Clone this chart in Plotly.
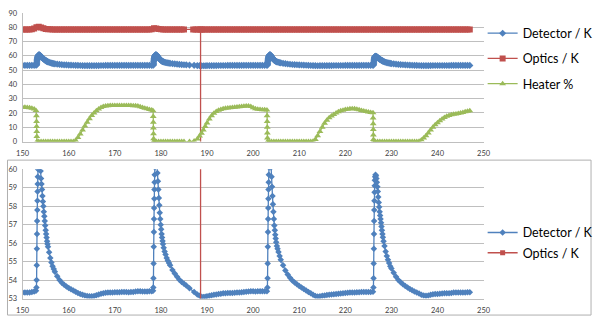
import plotly.graph_objects as go

# ---- logged data: (time, value) ----
DETECTOR = [
    (150.0, 53.32), (150.5, 53.32), (151.0, 53.33), (151.5, 53.33), (152.0, 53.35), (152.5, 53.38), (152.9, 53.42),
    (153.00, 53.6), (153.03, 54.0), (153.06, 54.8), (153.09, 55.7), (153.12, 56.5), (153.15, 57.2), (153.18, 57.8),
    (153.21, 58.3), (153.24, 58.8), (153.27, 59.2), (153.30, 59.6), (153.35, 60.0), (153.42, 60.4), (153.5, 60.7),
    (153.6, 60.8), (153.7, 60.6), (153.8, 60.3), (153.9, 59.9), (154.0, 59.5), (154.1, 59.2), (154.2, 58.9),
    (154.3, 58.55), (154.4, 58.25), (154.5, 58.0), (154.6, 57.7), (154.7, 57.45), (154.8, 57.2), (154.9, 56.95),
    (155.0, 56.7), (155.1, 56.5), (155.2, 56.3), (155.3, 56.1), (155.4, 55.95), (155.5, 55.8), (155.75, 55.5),
    (156.0, 55.2), (156.25, 54.95), (156.5, 54.75), (156.75, 54.6), (157.0, 54.45), (157.5, 54.2), (158.0, 54.0),
    (158.5, 53.85), (159.0, 53.75), (159.5, 53.65), (160.0, 53.57), (160.5, 53.5), (161.0, 53.43), (161.5, 53.37),
    (162.0, 53.3), (162.5, 53.25), (163.0, 53.2), (163.5, 53.16), (164.0, 53.14), (164.5, 53.12), (165.0, 53.12),
    (165.5, 53.14), (166.0, 53.18), (166.5, 53.22), (167.0, 53.26), (167.5, 53.29), (168.0, 53.31), (168.5, 53.32),
    (169.0, 53.33), (169.5, 53.33), (170.0, 53.34), (170.5, 53.34), (171.0, 53.34), (171.5, 53.35), (172.0, 53.35),
    (172.5, 53.35), (173.0, 53.34), (173.5, 53.35), (174.0, 53.36), (174.5, 53.38), (175.0, 53.4), (175.5, 53.39),
    (176.0, 53.38), (176.5, 53.38), (177.0, 53.38), (177.5, 53.39), (178.0, 53.4), (178.3, 53.42),
    (178.35, 53.6), (178.38, 54.1), (178.41, 54.9), (178.44, 55.8), (178.47, 56.6), (178.50, 57.3), (178.53, 57.9),
    (178.56, 58.4), (178.59, 58.9), (178.62, 59.3), (178.65, 59.7), (178.7, 60.1), (178.78, 60.5), (178.85, 60.75),
    (178.95, 60.8), (179.05, 60.55), (179.15, 60.2), (179.25, 59.8), (179.35, 59.35), (179.45, 58.9), (179.55, 58.45),
    (179.65, 58.05), (179.75, 57.65), (179.85, 57.3), (179.95, 57.0), (180.05, 56.75), (180.15, 56.5), (180.25, 56.3),
    (180.35, 56.12), (180.45, 55.95), (180.6, 55.75), (180.8, 55.55), (181.0, 55.38), (181.25, 55.2), (181.5, 55.05),
    (181.75, 54.92), (182.0, 54.8), (182.5, 54.55), (183.0, 54.35), (183.5, 54.18), (184.0, 54.02), (184.5, 53.9),
    (185.0, 53.8), (185.5, 53.7), (186.2, 53.55), (187.2, 53.35), (187.9, 53.22), (188.4, 53.15), (188.8, 53.1),
    (189.2, 53.08), (189.6, 53.09), (190.0, 53.12), (190.5, 53.15), (191.0, 53.18), (191.5, 53.2), (192.0, 53.22),
    (192.5, 53.24), (193.0, 53.26), (193.5, 53.28), (194.0, 53.29), (194.5, 53.3), (195.0, 53.3), (195.5, 53.3),
    (196.0, 53.31), (196.5, 53.32), (197.0, 53.33), (197.5, 53.34), (198.0, 53.36), (198.5, 53.37), (199.0, 53.38),
    (199.5, 53.39), (200.0, 53.39), (200.5, 53.38), (201.0, 53.39), (201.5, 53.4), (202.0, 53.4), (202.5, 53.39),
    (203.0, 53.4),
    (203.10, 53.6), (203.13, 54.1), (203.16, 54.9), (203.19, 55.8), (203.22, 56.6), (203.25, 57.3), (203.28, 57.9),
    (203.31, 58.4), (203.34, 58.9), (203.37, 59.3), (203.40, 59.7), (203.45, 60.1), (203.52, 60.5), (203.6, 60.75),
    (203.7, 60.8), (203.8, 60.5), (203.9, 60.1), (204.0, 59.6), (204.1, 59.05), (204.2, 58.55), (204.3, 58.1),
    (204.4, 57.7), (204.5, 57.3), (204.6, 56.95), (204.7, 56.7), (204.8, 56.45), (204.9, 56.25), (205.0, 56.05),
    (205.15, 55.85), (205.3, 55.7), (205.5, 55.52), (205.75, 55.3), (206.0, 55.1), (206.5, 54.8), (207.0, 54.52),
    (207.5, 54.3), (208.0, 54.12), (208.5, 53.98), (209.0, 53.87), (209.5, 53.77), (210.0, 53.68), (210.5, 53.6),
    (211.0, 53.52), (211.5, 53.44), (212.0, 53.36), (212.5, 53.28), (213.0, 53.2), (213.5, 53.14), (214.0, 53.11),
    (214.5, 53.12), (215.0, 53.15), (215.5, 53.17), (216.0, 53.19), (216.5, 53.2), (217.0, 53.22), (217.5, 53.23),
    (218.0, 53.25), (218.5, 53.26), (219.0, 53.27), (219.5, 53.28), (220.0, 53.3), (220.5, 53.31), (221.0, 53.32),
    (221.5, 53.32), (222.0, 53.33), (222.5, 53.34), (223.0, 53.34), (223.5, 53.35), (224.0, 53.35), (224.5, 53.36),
    (225.0, 53.36), (225.5, 53.35), (226.0, 53.37),
    (226.10, 53.6), (226.13, 54.1), (226.16, 54.9), (226.19, 55.7), (226.22, 56.5), (226.25, 57.2), (226.28, 57.8),
    (226.31, 58.3), (226.34, 58.75), (226.37, 59.1), (226.40, 59.4), (226.46, 59.6), (226.55, 59.7), (226.65, 59.65),
    (226.75, 59.5), (226.85, 59.3), (226.95, 59.05), (227.05, 58.8), (227.15, 58.5), (227.25, 58.2), (227.35, 57.95),
    (227.45, 57.7), (227.55, 57.5), (227.65, 57.3), (227.75, 57.1), (227.85, 56.9), (227.95, 56.7), (228.05, 56.5),
    (228.15, 56.32), (228.3, 56.1), (228.5, 55.85), (228.75, 55.55), (229.0, 55.3), (229.25, 55.1), (229.5, 54.92),
    (229.75, 54.75), (230.0, 54.62), (230.5, 54.4), (231.0, 54.18), (231.5, 54.0), (232.0, 53.88), (232.5, 53.78),
    (233.0, 53.68), (233.5, 53.6), (234.0, 53.52), (234.5, 53.45), (235.0, 53.38), (235.5, 53.33), (236.0, 53.27),
    (236.5, 53.21), (237.0, 53.17), (237.5, 53.15), (238.0, 53.17), (238.5, 53.2), (239.0, 53.23), (239.5, 53.24),
    (240.0, 53.25), (240.5, 53.26), (241.0, 53.27), (241.5, 53.28), (242.0, 53.28), (242.5, 53.29), (243.0, 53.3),
    (243.5, 53.32), (244.0, 53.33), (244.5, 53.33), (245.0, 53.32), (245.5, 53.32), (246.0, 53.33), (246.5, 53.34),
    (247.0, 53.34),
]

OPTICS = [
    (150.0, 78.5), (150.5, 78.5), (151.0, 78.5), (151.5, 78.5), (152.0, 78.6), (152.5, 79.2), (153.0, 80.0),
    (153.5, 80.4), (154.0, 79.9), (154.5, 79.3), (155.0, 78.9), (155.5, 78.7), (156.0, 78.6), (156.5, 78.5),
    (157.0, 78.5), (157.5, 78.5), (158.0, 78.5), (158.5, 78.5), (159.0, 78.5), (159.5, 78.5), (160.0, 78.5),
    (160.5, 78.5), (161.0, 78.5), (161.5, 78.5), (162.0, 78.5), (162.5, 78.5), (163.0, 78.5), (163.5, 78.5),
    (164.0, 78.5), (164.5, 78.5), (165.0, 78.5), (165.5, 78.5), (166.0, 78.5), (166.5, 78.5), (167.0, 78.5),
    (167.5, 78.5), (168.0, 78.5), (168.5, 78.5), (169.0, 78.5), (169.5, 78.5), (170.0, 78.5), (170.5, 78.5),
    (171.0, 78.5), (171.5, 78.5), (172.0, 78.5), (172.5, 78.5), (173.0, 78.5), (173.5, 78.5), (174.0, 78.5),
    (174.5, 78.5), (175.0, 78.5), (175.5, 78.5), (176.0, 78.5), (176.5, 78.5), (177.0, 78.5), (177.5, 78.5),
    (178.0, 78.7), (178.5, 79.4), (179.0, 79.2), (179.5, 78.8), (180.0, 78.6), (180.5, 78.5), (181.0, 78.5),
    (181.5, 78.5), (182.0, 78.5), (182.5, 78.5), (183.0, 78.5), (183.5, 78.5), (184.0, 78.5), (184.5, 78.5),
    (185.0, 78.5), (187.0, 78.5), (187.5, 78.5), (188.0, 78.5), (188.6, 78.5), (188.6, -10.0), (188.6, 78.5),
    (189.0, 78.5), (189.5, 78.5), (190.0, 78.5), (190.5, 78.5), (191.0, 78.5), (191.5, 78.5), (192.0, 78.5),
    (192.5, 78.5), (193.0, 78.5), (193.5, 78.5), (194.0, 78.5), (194.5, 78.5), (195.0, 78.5), (195.5, 78.5),
    (196.0, 78.5), (196.5, 78.5), (197.0, 78.5), (197.5, 78.5), (198.0, 78.5), (198.5, 78.5), (199.0, 78.5),
    (199.5, 78.5), (200.0, 78.5), (200.5, 78.5), (201.0, 78.5), (201.5, 78.5), (202.0, 78.5), (202.5, 78.5),
    (203.0, 78.5), (203.5, 78.5), (204.0, 78.5), (204.5, 78.5), (205.0, 78.5), (205.5, 78.5), (206.0, 78.5),
    (206.5, 78.5), (207.0, 78.5), (207.5, 78.5), (208.0, 78.5), (208.5, 78.5), (209.0, 78.5), (209.5, 78.5),
    (210.0, 78.5), (210.5, 78.5), (211.0, 78.5), (211.5, 78.5), (212.0, 78.5), (212.5, 78.5), (213.0, 78.5),
    (213.5, 78.5), (214.0, 78.5), (214.5, 78.5), (215.0, 78.5), (215.5, 78.5), (216.0, 78.5), (216.5, 78.5),
    (217.0, 78.5), (217.5, 78.5), (218.0, 78.5), (218.5, 78.5), (219.0, 78.5), (219.5, 78.5), (220.0, 78.5),
    (220.5, 78.5), (221.0, 78.5), (221.5, 78.5), (222.0, 78.5), (222.5, 78.5), (223.0, 78.5), (223.5, 78.5),
    (224.0, 78.5), (224.5, 78.5), (225.0, 78.5), (225.5, 78.5), (226.0, 78.5), (226.5, 78.5), (227.0, 78.5),
    (227.5, 78.5), (228.0, 78.5), (228.5, 78.5), (229.0, 78.5), (229.5, 78.5), (230.0, 78.5), (230.5, 78.5),
    (231.0, 78.5), (231.5, 78.5), (232.0, 78.5), (232.5, 78.5), (233.0, 78.5), (233.5, 78.5), (234.0, 78.5),
    (234.5, 78.5), (235.0, 78.5), (235.5, 78.5), (236.0, 78.5), (236.5, 78.5), (237.0, 78.5), (237.5, 78.5),
    (238.0, 78.5), (238.5, 78.5), (239.0, 78.5), (239.5, 78.5), (240.0, 78.5), (240.5, 78.5), (241.0, 78.5),
    (241.5, 78.5), (242.0, 78.5), (242.5, 78.5), (243.0, 78.5), (243.5, 78.5), (244.0, 78.5), (244.5, 78.5),
    (245.0, 78.5), (245.5, 78.5), (246.0, 78.5), (246.5, 78.5), (247.0, 78.5),
]

HEATER = [
    (150.0, 24.0), (150.5, 24.0), (151.0, 23.9), (151.5, 23.7), (152.0, 23.4), (152.5, 22.8), (152.9, 21.8),
    (153.00, 18.0), (153.02, 14.0), (153.04, 10.5), (153.06, 7.0), (153.08, 3.5), (153.10, 0.0),
    (153.5, 0.0), (154.0, 0.0), (154.5, 0.0), (155.0, 0.0), (155.5, 0.0), (156.0, 0.0), (156.5, 0.0), (157.0, 0.0),
    (157.5, 0.0), (158.0, 0.0), (158.5, 0.0), (159.0, 0.0), (159.5, 0.0), (160.0, 0.0), (160.5, 0.0), (161.0, 0.0),
    (161.5, 0.8), (162.0, 2.8), (162.5, 5.2), (163.0, 8.0), (163.5, 10.8), (164.0, 13.5), (164.5, 16.0),
    (165.0, 18.2), (165.5, 20.0), (166.0, 21.5), (166.5, 22.8), (167.0, 23.8), (167.5, 24.5), (168.0, 24.9),
    (168.5, 25.1), (169.0, 25.2), (169.5, 25.2), (170.0, 25.2), (170.5, 25.2), (171.0, 25.2), (171.5, 25.2),
    (172.0, 25.2), (172.5, 25.2), (173.0, 25.2), (173.5, 25.2), (174.0, 25.1), (174.5, 25.1), (175.0, 24.9),
    (175.5, 24.4), (176.0, 23.8), (176.5, 23.3), (177.0, 22.9), (177.5, 22.5), (178.0, 22.1), (178.3, 21.6),
    (178.33, 17.5), (178.35, 13.5), (178.37, 9.5), (178.39, 5.5), (178.41, 2.0), (178.43, 0.0),
    (178.5, 0.0), (179.0, 0.0), (179.5, 0.0), (180.0, 0.0), (180.5, 0.0), (181.0, 0.0), (181.5, 0.0), (182.0, 0.0),
    (182.5, 0.0), (183.0, 0.0), (183.5, 0.0), (184.0, 0.0), (184.5, 0.0), (185.0, 0.0), (186.2, 0.0), (187.2, 0.3),
    (187.9, 1.8), (188.4, 3.8), (188.8, 5.8), (189.2, 8.0), (189.6, 10.5), (190.0, 13.0), (190.5, 15.8),
    (191.0, 18.0), (191.5, 19.8), (192.0, 21.0), (192.5, 21.9), (193.0, 22.5), (193.5, 23.0), (194.0, 23.3),
    (194.5, 23.5), (195.0, 23.7), (195.5, 23.9), (196.0, 24.0), (196.5, 24.2), (197.0, 24.3), (197.5, 24.5),
    (198.0, 24.7), (198.5, 24.9), (199.0, 24.9), (199.5, 24.5), (200.0, 23.7), (200.5, 23.0), (201.0, 22.6),
    (201.5, 22.4), (202.0, 22.3), (202.5, 22.2), (203.0, 22.1),
    (203.03, 18.0), (203.05, 14.0), (203.07, 10.0), (203.09, 6.0), (203.11, 2.5), (203.13, 0.0),
    (203.5, 0.0), (204.0, 0.0), (204.5, 0.0), (205.0, 0.0), (205.5, 0.0), (206.0, 0.0), (206.5, 0.0), (207.0, 0.0),
    (207.5, 0.0), (208.0, 0.0), (208.5, 0.0), (209.0, 0.0), (209.5, 0.0), (210.0, 0.0), (210.5, 0.0), (211.0, 0.0),
    (211.5, 0.0), (212.0, 0.0), (212.5, 0.0), (213.0, 0.2), (213.5, 1.5), (214.0, 4.0), (214.5, 7.0),
    (215.0, 10.0), (215.5, 12.8), (216.0, 15.0), (216.5, 16.6), (217.0, 17.9), (217.5, 19.0), (218.0, 20.0),
    (218.5, 20.8), (219.0, 21.5), (219.5, 22.0), (220.0, 22.4), (220.5, 22.7), (221.0, 22.9), (221.5, 23.0),
    (222.0, 22.9), (222.5, 22.6), (223.0, 22.2), (223.5, 21.8), (224.0, 21.4), (224.5, 21.0), (225.0, 20.7),
    (225.5, 20.4), (226.0, 20.2),
    (226.03, 16.5), (226.05, 12.5), (226.07, 8.5), (226.09, 4.5), (226.11, 1.5), (226.13, 0.0),
    (226.5, 0.0), (227.0, 0.0), (227.5, 0.0), (228.0, 0.0), (228.5, 0.0), (229.0, 0.0), (229.5, 0.0), (230.0, 0.0),
    (230.5, 0.0), (231.0, 0.0), (231.5, 0.0), (232.0, 0.0), (232.5, 0.0), (233.0, 0.0), (233.5, 0.0), (234.0, 0.0),
    (234.5, 0.0), (235.0, 0.0), (235.5, 0.0), (236.0, 0.2), (236.5, 1.0), (237.0, 2.5), (237.5, 4.0),
    (238.0, 6.0), (238.5, 8.0), (239.0, 10.0), (239.5, 11.8), (240.0, 13.2), (240.5, 14.5), (241.0, 15.8),
    (241.5, 16.8), (242.0, 17.7), (242.5, 18.3), (243.0, 18.8), (243.5, 19.1), (244.0, 19.3), (244.5, 19.6),
    (245.0, 20.0), (245.5, 20.4), (246.0, 20.8), (246.5, 21.2), (247.0, 21.5),
]

X_TICKS = [150, 160, 170, 180, 190, 200, 210, 220, 230, 240, 250]

# ---- styling ----
W, H = 600, 322
BLUE, RED, GREEN = "#4F81BD", "#C0504D", "#9BBB59"
GRID = "#BFBFBF"
TICK_FONT = dict(family="Lato", size=7.5, color="#404040")
LEG_FONT = dict(family="Lato", size=12.5, color="#000000")


def fx(p):
    return p / W


def fy(p):
    return 1 - p / H


def cols(pairs):
    return [p[0] for p in pairs], [p[1] for p in pairs]


det_t, det_v = cols(DETECTOR)
opt_t, opt_v = cols(OPTICS)
heat_t, heat_v = cols(HEATER)

fig = go.Figure()


def series(t, v, name, color, symbol, size, xa, ya, legend):
    fig.add_trace(go.Scatter(
        x=t, y=v, name=name, mode="lines+markers",
        xaxis=xa, yaxis=ya, legend=legend, legendgroup=legend + name,
        line=dict(color=color, width=1.3, simplify=False),
        marker=dict(color=color, symbol=symbol, size=size, line=dict(width=0)),
        cliponaxis=True,
    ))


# upper panel
series(det_t, det_v, "Detector / K", BLUE, "diamond", 5.5, "x", "y", "legend")
series(opt_t, opt_v, "Optics / K", RED, "square", 6, "x", "y", "legend")
series(heat_t, heat_v, "Heater %", GREEN, "triangle-up", 6, "x", "y", "legend")
# lower panel (zoomed on the detector)
series(det_t, det_v, "Detector / K", BLUE, "diamond", 5, "x2", "y2", "legend2")
series(opt_t, opt_v, "Optics / K", RED, "square", 5, "x2", "y2", "legend2")

xcommon = dict(range=[150, 250], tickvals=X_TICKS, showgrid=False, zeroline=False,
               showline=True, linecolor=GRID, linewidth=1, ticks="",
               tickfont=TICK_FONT, ticklabelstandoff=4, fixedrange=True)
ycommon = dict(showgrid=True, gridcolor=GRID, gridwidth=1, zeroline=False,
               showline=True, linecolor=GRID, linewidth=1, ticks="",
               tickfont=TICK_FONT, ticklabelstandoff=3, fixedrange=True)

fig.update_layout(
    width=W, height=H,
    margin=dict(l=0, r=0, t=0, b=0),
    paper_bgcolor="white", plot_bgcolor="white",
    showlegend=True,
    xaxis=dict(domain=[fx(16), fx(488)], anchor="y", **xcommon),
    yaxis=dict(domain=[fy(141.5), fy(9.3)], anchor="x", range=[0, 90], dtick=10, **ycommon),
    xaxis2=dict(domain=[fx(16), fx(488)], anchor="y2", **xcommon),
    yaxis2=dict(domain=[fy(303), fy(170)], anchor="x2", range=[53, 60], dtick=1, **ycommon),
    legend=dict(x=fx(487), y=fy(15), xanchor="left", yanchor="top", font=LEG_FONT,
                bgcolor="rgba(0,0,0,0)", traceorder="grouped", tracegroupgap=6, itemwidth=30),
    legend2=dict(x=fx(487), y=fy(220), xanchor="left", yanchor="top", font=LEG_FONT,
                 bgcolor="rgba(0,0,0,0)", traceorder="grouped", tracegroupgap=1, itemwidth=30),
    shapes=[dict(type="rect", xref="paper", yref="paper",
                 x0=fx(0.5), x1=fx(598), y0=fy(320), y1=fy(160.6),
                 line=dict(color="#B0B0B0", width=1), fillcolor="rgba(0,0,0,0)", layer="below")],
)

fig.write_html("out.html")
